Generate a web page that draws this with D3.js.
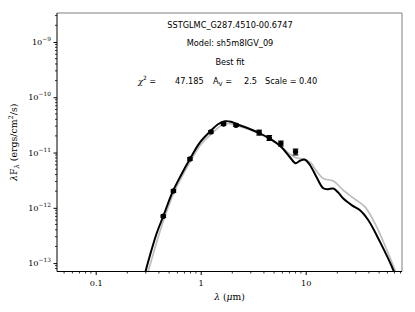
<!DOCTYPE html>
<html><head><meta charset="utf-8">
<script src="https://cdn.jsdelivr.net/npm/d3@7"></script>
<style>body{margin:0;background:#fff}svg{display:block}</style>
</head><body>
<svg id="c" width="415" height="312"></svg>
<script>
// Observed fluxes (wavelength in micron, lambda*F_lambda in ergs/cm^2/s)
const obsWave = [0.44, 0.55, 0.79, 1.25, 1.65, 2.17, 3.6, 4.5, 5.8, 8.0];
const obsFlux = [7.05e-13, 2.02e-12, 7.66e-12, 2.36e-11, 3.29e-11, 3.12e-11, 2.30e-11, 1.84e-11, 1.46e-11, 1.03e-11];
const obsErr  = [0.05, 0.05, 0.05, 0.05, 0.05, 0.05, 0.10, 0.10, 0.10, 0.12];

// Best-fit model SED (black)
const fitWave = [0.288,0.299,0.329,0.381,0.44,0.489,0.545,0.649,0.791,0.985,1.25,1.46,1.70,1.94,2.22,2.82,3.55,4.57,5.89,7.08,8.0,8.83,9.84,11.0,12.7,14.7,16.3,18.3,20.3,22.8,27.6,32.9,39.5,51.0,68.3,72.4];
const fitFlux = [4.9e-14,7.14e-14,1.39e-13,3.47e-13,7.05e-13,1.21e-12,2.02e-12,3.89e-12,7.72e-12,1.53e-11,2.48e-11,3.25e-11,3.68e-11,3.61e-11,3.25e-11,2.75e-11,2.28e-11,1.78e-11,1.25e-11,8.22e-12,6.41e-12,7.11e-12,7.41e-12,5.89e-12,3.57e-12,2.26e-12,2.17e-12,2.23e-12,1.91e-12,1.47e-12,1.11e-12,9.05e-13,5.97e-13,2.42e-13,7.45e-14,5.33e-14];

// Model SED without extinction correction (gray)
const altWave = [0.308,0.317,0.344,0.404,0.457,0.557,0.809,1.0,1.28,1.70,2.22,3.55,4.57,5.89,7.08,8.08,9.22,11.0,12.7,14.7,18.3,22.8,29.5,36.7,47.4,70.8,75.7];
const altFlux = [4.9e-14,7.14e-14,1.23e-13,3.47e-13,7.05e-13,1.91e-12,7.26e-12,1.38e-11,2.23e-11,3.32e-11,3.05e-11,2.23e-11,1.74e-11,1.25e-11,9.31e-12,8.05e-12,7.72e-12,6.68e-12,4.59e-12,3.39e-12,3.06e-12,2.08e-12,1.43e-12,1.04e-12,4.52e-13,7.45e-14,5.33e-14];

const xTickVals = [0.1, 1, 10];
const xTickLabels = ["0.1", "1", "10"];
const yTickExp = [-13, -12, -11, -10, -9];

const titleLines = ["SSTGLMC_G287.4510-00.6747", "Model: sh5m8IGV_09", "Best fit"];
const chi2 = "47.185", av = "2.5", scale = "0.40";

const svg = d3.select("#c");
const L = 57, R = 402, T = 13, B = 271.5;
const x = d3.scaleLog().domain([0.0428, 82.6]).range([L, R]);
const y = d3.scaleLog().domain([10**-13.152, 10**-8.476]).range([B, T]);

svg.append("defs").append("clipPath").attr("id","clip")
  .append("rect").attr("x",L).attr("y",T).attr("width",R-L).attr("height",B-T);

const serif = "DejaVu Serif";
const xMinor = [];
for (let e=-2;e<=1;e++) for (let m=2;m<=9;m++){ const v=m*10**e; if (v>x.domain()[0]&&v<x.domain()[1]) xMinor.push(v);}
const yMinor = [];
for (let e=-14;e<=-9;e++) for (let m=2;m<=9;m++){ const v=m*10**e; if (v>y.domain()[0]&&v<y.domain()[1]) yMinor.push(v);}

const g = svg.append("g");
g.append("line").attr("x1",L).attr("x2",R).attr("y1",T).attr("y2",T).attr("stroke","#808080").attr("stroke-width",1);
g.append("line").attr("x1",R).attr("x2",R).attr("y1",T).attr("y2",B).attr("stroke","#808080").attr("stroke-width",1);

const line = d3.line().x(d=>x(d[0])).y(d=>y(d[1])).curve(d3.curveCatmullRom.alpha(0.5));
const plot = svg.append("g").attr("clip-path","url(#clip)");
plot.append("path").attr("d", line(altWave.map((w,i)=>[w,altFlux[i]])))
  .attr("fill","none").attr("stroke","#bdbdbd").attr("stroke-width",1.7);
plot.append("path").attr("d", line(fitWave.map((w,i)=>[w,fitFlux[i]])))
  .attr("fill","none").attr("stroke","#000").attr("stroke-width",2);

const pts = svg.append("g");
obsWave.forEach((w,i)=>{
  const f = obsFlux[i], e = obsErr[i];
  const cx = x(w), y1 = y(f*(1+e)), y2 = y(f*(1-e));
  pts.append("line").attr("x1",cx).attr("x2",cx).attr("y1",y1).attr("y2",y2).attr("stroke","#000").attr("stroke-width",1.2);
  [y1,y2].forEach(yy=>pts.append("line").attr("x1",cx-2.8).attr("x2",cx+2.8).attr("y1",yy).attr("y2",yy).attr("stroke","#000").attr("stroke-width",1.2));
  pts.append("circle").attr("cx",cx).attr("cy",y(f)).attr("r",2.7).attr("fill","#000");
});

const ax = d3.axisBottom(x).tickValues(xTickVals).tickFormat((d,i)=>xTickLabels[i]).tickSize(3.5).tickPadding(5);
const gx = svg.append("g").attr("transform",`translate(0,${B})`).call(ax);
gx.selectAll("line.minor").data(xMinor).enter().append("line").attr("class","minor")
  .attr("x1",d=>x(d)).attr("x2",d=>x(d)).attr("y1",0).attr("y2",2).attr("stroke","#000").attr("stroke-width",0.8);
gx.select(".domain").attr("d",`M${L},0H${R}`).attr("stroke","#000");
gx.selectAll("text").attr("font-family",serif).attr("font-size",8.2).attr("fill","#000");

const ay = d3.axisLeft(y).tickValues(yTickExp.map(e=>10**e)).tickFormat("").tickSize(3.5);
const gy = svg.append("g").attr("transform",`translate(${L},0)`).call(ay);
gy.select(".domain").attr("d",`M0,${T}V${B}`).attr("stroke","#000");
gy.selectAll("line.minor").data(yMinor).enter().append("line").attr("class","minor")
  .attr("x1",0).attr("x2",-2).attr("y1",d=>y(d)).attr("y2",d=>y(d)).attr("stroke","#000").attr("stroke-width",0.8);
yTickExp.forEach(e=>{
  const t = gy.append("text").attr("x",-6).attr("y",y(10**e)+3).attr("text-anchor","end")
    .attr("font-family",serif).attr("font-size",8.2).attr("fill","#000");
  t.append("tspan").text("10");
  t.append("tspan").attr("dy",-3.8).attr("font-size",5.9).text("\u2212"+(-e));
});

const yl = svg.append("text").attr("transform",`translate(17,${(T+B)/2}) rotate(-90)`).attr("text-anchor","middle")
  .attr("font-family",serif).attr("font-size",9.4).attr("fill","#000");
yl.append("tspan").attr("font-style","italic").text("\u03bb");
yl.append("tspan").text("F");
yl.append("tspan").attr("dy",2.2).attr("font-size",6.6).attr("font-style","italic").text("\u03bb");
yl.append("tspan").attr("dy",-2.2).text(" (ergs/cm");
yl.append("tspan").attr("dy",-4).attr("font-size",6.6).text("2");
yl.append("tspan").attr("dy",4).text("/s)");

const xl = svg.append("text").attr("x",(L+R)/2).attr("y",300).attr("text-anchor","middle")
  .attr("font-family",serif).attr("font-size",9.2).attr("fill","#000");
xl.append("tspan").attr("font-style","italic").text("\u03bb");
xl.append("tspan").text(" (");
xl.append("tspan").attr("font-style","italic").text("\u03bc");
xl.append("tspan").text("m)");

const sans = "DejaVu Sans";
const ty = [27.5, 46, 65];
titleLines.forEach((s,i)=>svg.append("text").attr("x",230).attr("y",ty[i]).attr("text-anchor","middle")
  .attr("font-family",sans).attr("font-size",8.2).attr("fill","#000").text(s));
const cy = 83.5;
const tc = (xx)=>svg.append("text").attr("x",xx).attr("y",cy).attr("font-family",sans).attr("font-size",8.2).attr("fill","#000");
const t1 = tc(138); t1.append("tspan").attr("font-family",serif).attr("font-style","italic").text("\u03c7");
t1.append("tspan").attr("dy",-3.2).attr("font-size",5.8).text("2"); t1.append("tspan").attr("dy",3.2).text(" =");
tc(175).text(chi2);
const t2 = tc(213); t2.append("tspan").text("A"); t2.append("tspan").attr("dy",2).attr("font-size",5.8).text("V");
t2.append("tspan").attr("dy",-2).text(" =");
tc(244).text(av);
tc(265).text("Scale =");
tc(299).text(scale);
</script>
</body></html>
